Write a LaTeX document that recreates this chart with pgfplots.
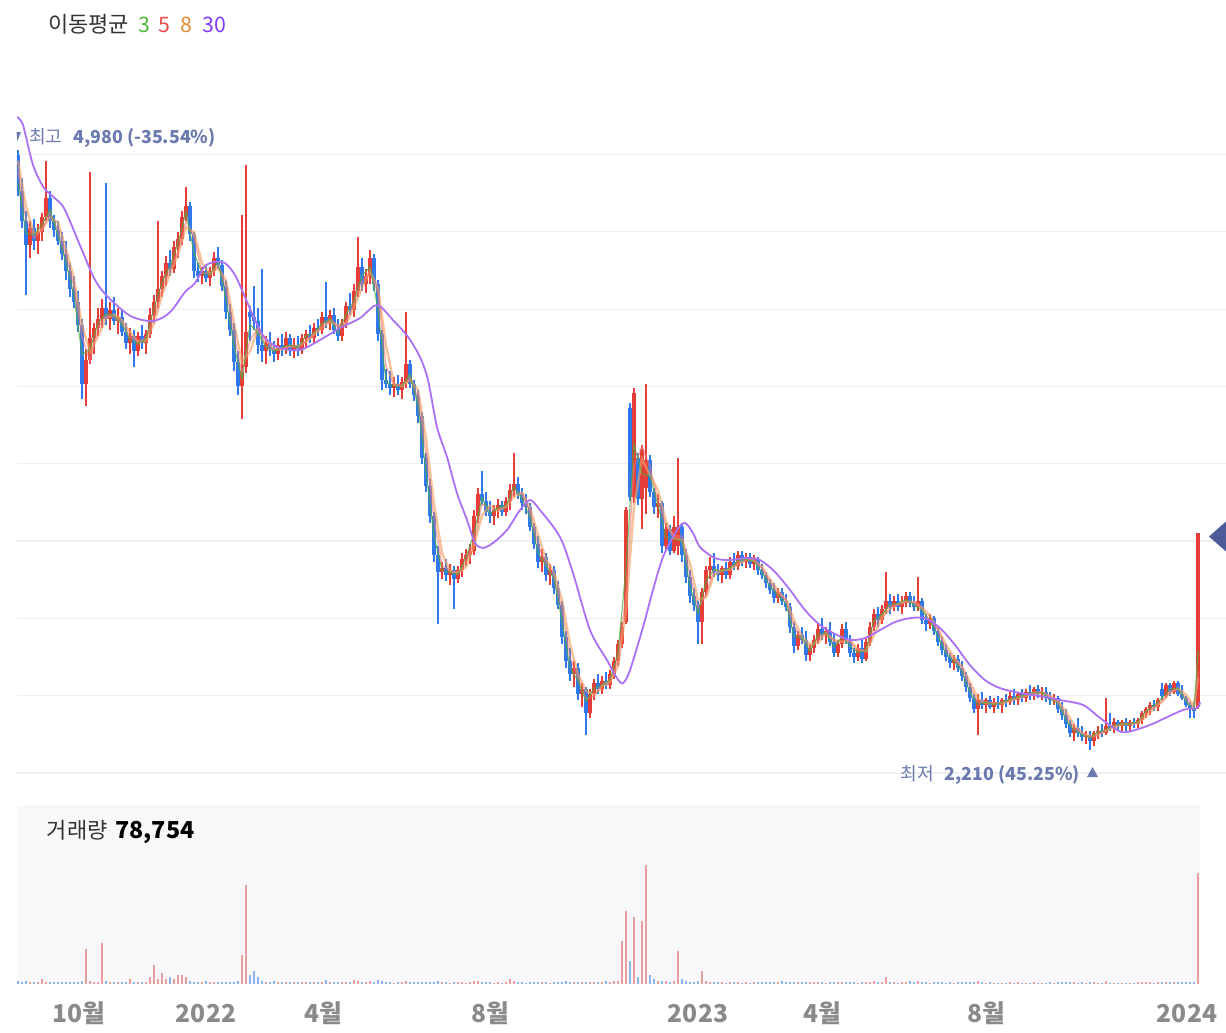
\documentclass[border=0pt]{standalone}
\usepackage{pgfplots}
\pgfplotsset{compat=1.18}
\usepackage{pgfplotstable}
\usepackage{fontspec}
\setmainfont{Noto Sans CJK KR}
\definecolor{upc}{RGB}{229,62,56}
\definecolor{dnc}{RGB}{49,120,235}
\definecolor{volup}{RGB}{232,158,158}
\definecolor{voldn}{RGB}{140,180,240}
\definecolor{ma3}{RGB}{80,175,60}
\definecolor{ma5}{RGB}{240,120,120}
\definecolor{ma8}{RGB}{242,160,100}
\definecolor{ma30}{RGB}{170,112,246}
\definecolor{lbl}{RGB}{106,122,174}
\definecolor{gridc}{RGB}{238,239,243}
\definecolor{panel}{RGB}{248,248,251}
\definecolor{axlbl}{RGB}{138,138,138}
\definecolor{markc}{RGB}{76,92,153}
\definecolor{txt}{RGB}{51,51,51}
\definecolor{leg3}{RGB}{80,185,60}
\definecolor{leg5}{RGB}{238,72,72}
\definecolor{leg8}{RGB}{232,135,50}
\definecolor{leg30}{RGB}{130,60,245}

\pgfplotstableread{
x o h l c v
18 4955 4980 4770 4790 1500
22 4790 4850 4620 4650 1200
26 4650 4700 4310 4540 1800
30 4540 4650 4480 4620 1000
34 4620 4660 4520 4560 900
38 4560 4640 4500 4600 1100
42 4600 4690 4560 4670 3100
46 4670 4930 4650 4760 1400
50 4760 4790 4620 4650 1000
54 4650 4680 4580 4610 800
58 4610 4650 4540 4560 1300
62 4560 4600 4470 4500 900
66 4500 4560 4380 4420 1100
70 4420 4460 4300 4340 1200
74 4340 4400 4250 4280 800
78 4280 4330 4140 4170 1000
82 4170 4200 3830 3900 1500
86 3900 4060 3800 4010 24600
90 4010 4880 3990 4110 1800
94 4110 4180 4040 4160 1200
98 4160 4250 4120 4200 900
102 4200 4290 4160 4250 28800
106 4250 4830 4170 4200 1500
110 4200 4280 4150 4240 1000
114 4240 4300 4170 4190 800
118 4190 4250 4130 4210 1100
122 4210 4240 4120 4140 900
126 4140 4180 4060 4090 1200
130 4090 4160 4040 4120 3100
134 4120 4150 3980 4050 1000
138 4050 4140 4030 4120 1300
142 4120 4170 4060 4090 800
146 4090 4150 4040 4130 900
150 4130 4250 4110 4220 4500
154 4220 4310 4180 4280 13100
158 4280 4650 4250 4340 3000
162 4340 4420 4300 4400 7400
166 4400 4490 4350 4460 3100
170 4460 4520 4400 4430 4500
174 4430 4560 4410 4530 3100
178 4530 4600 4480 4570 5900
182 4570 4700 4540 4670 5900
186 4670 4810 4650 4720 4500
190 4720 4740 4560 4590 1700
194 4590 4600 4390 4420 1200
198 4420 4460 4370 4400 800
202 4400 4440 4360 4420 900
206 4420 4450 4370 4390 1700
210 4390 4440 4350 4420 1000
214 4420 4510 4400 4480 800
218 4480 4530 4430 4450 1000
222 4450 4470 4330 4350 1100
226 4350 4380 4200 4230 900
230 4230 4270 4120 4150 1200
234 4150 4180 3960 4000 1300
238 4000 4050 3850 3890 1500
242 3890 4680 3740 3960 20300
246 3980 4910 3950 4140 70400
250 4230 4260 4100 4210 6000
254 4210 4350 4150 4190 8800
258 4190 4250 4040 4080 4500
262 4080 4430 4000 4050 1500
266 4050 4120 3990 4090 1000
270 4090 4140 4030 4060 900
274 4060 4100 4000 4040 1700
278 4040 4110 4010 4080 1000
282 4080 4130 4030 4060 800
286 4060 4140 4040 4110 900
290 4110 4130 4030 4050 1000
294 4050 4110 4020 4080 800
298 4080 4120 4030 4060 900
302 4060 4130 4040 4110 800
306 4110 4150 4070 4130 1000
310 4130 4170 4090 4110 800
314 4110 4180 4090 4160 900
318 4160 4200 4120 4150 800
322 4150 4230 4130 4210 1000
326 4210 4370 4160 4180 2400
330 4180 4240 4150 4220 1000
334 4220 4250 4130 4150 900
338 4150 4200 4100 4120 800
342 4120 4200 4100 4180 1000
346 4180 4280 4160 4260 1200
350 4260 4320 4220 4240 900
354 4240 4360 4210 4330 2400
358 4330 4580 4300 4440 1800
362 4440 4480 4330 4360 1000
366 4360 4430 4320 4400 900
370 4400 4520 4360 4480 1500
374 4480 4500 4330 4360 1200
378 4360 4380 4100 4130 2400
382 4130 4150 3870 3920 1500
386 3920 3970 3880 3900 900
390 3900 3960 3850 3880 800
394 3880 3930 3840 3900 700
398 3900 3940 3850 3870 800
402 3870 3930 3830 3910 900
406 3910 4230 3880 3990 2000
410 3990 4010 3880 3900 1000
414 3900 3920 3820 3850 800
418 3850 3870 3720 3750 900
422 3750 3770 3530 3560 1200
426 3560 3580 3400 3430 1000
430 3430 3460 3260 3290 1100
434 3290 3310 3080 3110 1300
438 3110 3150 2790 3030 1500
442 3030 3080 3000 3050 900
446 3050 3090 2990 3020 800
450 3020 3070 2970 3040 700
454 3040 3060 2860 3000 1000
458 3000 3060 2980 3040 900
462 3040 3120 3010 3090 800
466 3090 3140 3060 3110 700
470 3110 3160 3070 3130 900
474 3130 3320 3110 3290 2100
478 3290 3420 3260 3390 1500
482 3390 3500 3340 3360 1200
486 3360 3400 3290 3310 900
490 3310 3360 3260 3290 800
494 3290 3340 3250 3320 700
498 3320 3370 3280 3340 800
502 3340 3360 3290 3310 700
506 3310 3380 3290 3360 900
510 3360 3440 3320 3410 3100
514 3410 3580 3380 3440 1500
518 3440 3470 3370 3390 900
522 3390 3420 3320 3350 800
526 3350 3390 3300 3330 700
530 3330 3350 3220 3240 900
534 3240 3260 3140 3160 1000
538 3160 3200 3050 3080 1100
542 3080 3140 3030 3100 800
546 3100 3120 2990 3020 900
550 3020 3070 2970 3040 700
554 3040 3060 2930 2960 1000
558 2960 2990 2860 2880 1200
562 2880 2900 2700 2730 1300
566 2730 2760 2590 2620 1500
570 2620 2680 2530 2560 1200
574 2560 2620 2500 2590 1000
578 2590 2610 2440 2470 1100
582 2470 2520 2410 2490 900
586 2490 2500 2280 2380 1300
590 2380 2490 2360 2470 1000
594 2470 2540 2440 2520 900
598 2520 2560 2470 2490 800
602 2490 2550 2470 2530 1000
606 2530 2570 2490 2510 1700
610 2510 2580 2490 2560 1200
614 2560 2640 2540 2620 2100
618 2620 2720 2600 2700 1500
622 2700 2800 2680 2780 30500
626 2800 3330 2790 3320 52000
630 3790 3810 3360 3380 16000
634 3380 3880 3350 3860 47700
638 3560 3580 3340 3370 4500
642 3370 3620 3230 3600 44800
646 3420 3900 3300 3550 84800
650 3550 3570 3380 3400 6000
654 3400 3420 3300 3330 3100
658 3330 3390 3280 3350 1700
662 3350 3360 3120 3150 1700
666 3150 3260 3130 3230 1500
670 3230 3250 3110 3130 1200
674 3130 3290 3120 3240 1500
678 3150 3560 3110 3240 23300
682 3240 3260 3080 3110 3100
686 3110 3140 2980 3010 1500
690 3010 3040 2890 2920 1200
694 2920 2960 2850 2880 1000
698 2880 2900 2700 2800 1500
702 2800 2960 2700 2940 8800
706 2940 3060 2920 3040 1500
710 3040 3100 3000 3060 1200
714 3060 3120 3010 3030 900
718 3030 3070 2990 3020 800
722 3020 3060 2980 3050 900
726 3050 3080 3000 3020 700
730 3020 3100 3000 3080 1000
734 3080 3120 3040 3060 800
738 3060 3130 3040 3110 900
742 3110 3130 3060 3080 700
746 3080 3120 3050 3100 800
750 3100 3120 3050 3070 700
754 3070 3110 3040 3090 800
758 3090 3100 3020 3040 1200
762 3040 3070 3000 3020 800
766 3020 3030 2960 2980 900
770 2980 3000 2930 2950 1000
774 2950 2980 2890 2910 1100
778 2910 2960 2890 2940 800
782 2940 2960 2880 2900 1600
786 2900 2930 2850 2870 900
790 2870 2890 2750 2780 1200
794 2780 2800 2660 2690 1300
798 2690 2760 2670 2740 900
802 2740 2780 2700 2720 800
806 2720 2760 2620 2650 1000
810 2650 2700 2620 2680 800
814 2680 2740 2660 2720 900
818 2720 2790 2700 2770 1000
822 2770 2820 2720 2740 800
826 2740 2780 2700 2760 700
830 2760 2800 2690 2710 800
834 2710 2750 2640 2660 900
838 2660 2720 2640 2700 800
842 2700 2790 2680 2770 1200
846 2770 2800 2700 2720 900
850 2720 2740 2640 2660 800
854 2660 2680 2610 2640 900
858 2640 2700 2620 2680 700
862 2680 2720 2610 2630 800
866 2630 2730 2620 2710 1000
870 2710 2800 2690 2780 1200
874 2780 2860 2760 2840 1500
878 2840 2870 2780 2810 900
882 2810 2880 2790 2860 1000
886 2860 3030 2840 2900 4500
890 2900 2930 2840 2870 1000
894 2870 2920 2850 2900 800
898 2900 2930 2850 2870 700
902 2870 2920 2840 2890 800
906 2890 2940 2870 2920 900
910 2920 2940 2870 2890 1500
914 2890 2920 2850 2870 800
918 2870 3010 2850 2900 2100
922 2900 2910 2790 2810 1000
926 2810 2840 2760 2790 800
930 2790 2840 2770 2820 700
934 2820 2830 2740 2760 800
938 2760 2780 2690 2710 900
942 2710 2730 2650 2670 800
946 2670 2700 2620 2640 700
950 2640 2660 2590 2610 800
954 2610 2650 2580 2630 700
958 2630 2650 2570 2590 800
962 2590 2620 2530 2550 900
966 2550 2570 2480 2500 1000
970 2500 2520 2430 2450 1100
974 2450 2470 2380 2400 1200
978 2400 2470 2280 2440 1500
982 2440 2480 2400 2420 800
986 2420 2450 2380 2440 700
990 2440 2460 2400 2410 800
994 2410 2450 2380 2430 700
998 2430 2460 2400 2420 600
1002 2420 2450 2380 2440 700
1006 2440 2470 2410 2430 600
1010 2430 2480 2420 2460 800
1014 2460 2490 2420 2440 700
1018 2440 2480 2420 2470 800
1022 2470 2490 2430 2450 600
1026 2450 2490 2430 2480 700
1030 2480 2510 2440 2460 600
1034 2460 2500 2440 2490 800
1038 2490 2510 2450 2470 700
1042 2470 2500 2440 2480 600
1046 2480 2500 2430 2450 700
1050 2450 2480 2420 2440 800
1054 2440 2470 2420 2450 700
1058 2450 2460 2380 2400 900
1062 2400 2430 2350 2370 800
1066 2370 2400 2310 2330 1000
1070 2330 2350 2270 2290 900
1074 2290 2330 2250 2310 800
1078 2310 2360 2270 2290 700
1082 2290 2320 2250 2270 800
1086 2270 2300 2240 2280 700
1090 2280 2300 2210 2250 1000
1094 2250 2300 2230 2290 800
1098 2290 2320 2260 2300 700
1102 2300 2330 2270 2290 600
1106 2290 2450 2280 2320 1500
1110 2320 2380 2300 2310 700
1114 2310 2360 2290 2340 600
1118 2340 2350 2300 2320 700
1122 2320 2350 2300 2340 600
1126 2340 2360 2300 2320 700
1130 2320 2350 2300 2340 600
1134 2340 2360 2310 2330 700
1138 2330 2360 2310 2350 800
1142 2350 2390 2330 2380 900
1146 2380 2410 2360 2400 800
1150 2400 2430 2370 2420 900
1154 2420 2440 2390 2410 700
1158 2410 2450 2390 2440 800
1162 2490 2520 2440 2460 1200
1166 2460 2520 2450 2510 1000
1170 2510 2520 2460 2480 900
1174 2480 2530 2470 2520 1000
1178 2520 2530 2460 2470 800
1182 2470 2510 2440 2450 900
1186 2450 2460 2410 2420 800
1190 2420 2430 2360 2400 1000
1194 2400 2430 2360 2390 900
1198 2410 3210 2400 3210 78754
}\candles

\newcommand{\upx}{\thisrow{c}<\thisrow{o} ? -100 : \thisrow{x}}
\newcommand{\dnx}{\thisrow{c}<\thisrow{o} ? \thisrow{x} : -100}
\newcommand{\wmid}{(\thisrow{h}+\thisrow{l})/2}
\newcommand{\werr}{(\thisrow{h}-\thisrow{l})/2}
\newcommand{\bmid}{(\thisrow{o}+\thisrow{c})/2}
\newcommand{\berr}{max(abs(\thisrow{c}-\thisrow{o})/2,4)}

\pgfplotsset{
  wick/.style={draw=none, mark=none, forget plot, restrict x to domain=0:2000,
    error bars/.cd, y dir=both, y explicit, error mark=none,
    error bar style={draw=#1, line width=0.85pt}},
  body/.style={draw=none, mark=none, forget plot, restrict x to domain=0:2000,
    error bars/.cd, y dir=both, y explicit, error mark=none,
    error bar style={draw=#1, line width=2.6pt}},
}

\begin{document}
\begin{tikzpicture}
\useasboundingbox (0pt,0pt) rectangle (919.5pt,-774pt);

% ---------- price panel ----------
\begin{axis}[
  at={(12.75pt,-579.75pt)}, anchor=south west,
  scale only axis, width=906.75pt, height=497.25pt,
  xmin=17, xmax=1226, ymin=2104, ymax=5164.7,
  axis line style={draw=none},
  xtick=\empty,
  ytick={2104,2460.9,2817.8,3174.7,3531.6,3888.5,4245.4,4602.3,4959.2},
  yticklabels={}, scaled y ticks=false,
  major tick length=0pt,
  ymajorgrids, grid style={gridc, line width=0.9pt},
]
\addplot[wick=upc] table[x expr={\upx}, y expr={\wmid}, y error expr={\werr}]{\candles};
\addplot[wick=dnc] table[x expr={\dnx}, y expr={\wmid}, y error expr={\werr}]{\candles};
\addplot[body=upc] table[x expr={\upx}, y expr={\bmid}, y error expr={\berr}]{\candles};
\addplot[body=dnc] table[x expr={\dnx}, y expr={\bmid}, y error expr={\berr}]{\candles};

% MA 8
\addplot[ma8, line width=1.8pt, opacity=0.65, mark=none] coordinates {
(18,4930) (26,4720) (34,4593) (42,4613) (50,4670) (58,4645) (66,4523) (74,4385) (82,4173) (90,4048) (98,4120) (106,4203) (114,4220) (122,4195) (130,4140) (138,4095) (146,4098) (154,4180) (162,4310) (170,4408) (178,4498) (186,4623) (194,4600) (202,4458) (210,4408) (218,4435) (226,4378) (234,4183) (242,4000) (250,4050) (258,4155) (266,4103) (274,4060) (282,4060) (290,4075) (298,4075) (306,4095) (314,4128) (322,4158) (330,4190) (338,4168) (346,4178) (354,4253) (362,4343) (370,4420) (378,4343) (386,4078) (394,3900) (402,3890) (410,3918) (418,3873) (426,3648) (434,3348) (442,3120) (450,3035) (458,3030) (466,3055) (474,3155) (482,3293) (490,3338) (498,3315) (506,3333) (514,3380) (522,3398) (530,3328) (538,3203) (546,3090) (554,3030) (562,2903) (570,2698) (578,2560) (586,2483) (594,2465) (602,2503) (610,2523) (618,2598) (626,2855) (634,3335) (642,3553) (650,3480) (658,3408) (666,3265) (674,3188) (682,3180) (690,3070) (698,2903) (706,2915) (714,3018) (722,3040) (730,3043) (738,3068) (746,3088) (754,3085) (762,3055) (770,2998) (778,2945) (786,2905) (794,2810) (802,2733) (810,2698) (818,2705) (826,2748) (834,2718) (842,2710) (850,2713) (858,2675) (866,2665) (874,2740) (882,2823) (890,2860) (898,2885) (906,2895) (914,2893) (922,2868) (930,2830) (938,2770) (946,2695) (954,2638) (962,2595) (970,2523) (978,2448) (986,2425) (994,2425) (1002,2425) (1010,2438) (1018,2450) (1026,2460) (1034,2470) (1042,2475) (1050,2460) (1058,2435) (1066,2388) (1074,2325) (1082,2290) (1090,2273) (1098,2280) (1106,2300) (1114,2315) (1122,2328) (1130,2330) (1138,2335) (1146,2365) (1154,2403) (1162,2433) (1170,2473) (1178,2495) (1186,2465) (1194,2415) (1198,2543)
};
% MA 5
\addplot[ma5, line width=1.1pt, opacity=0.6, mark=none] coordinates {
(18,4880) (26,4660) (34,4573) (42,4610) (50,4693) (58,4607) (66,4493) (74,4347) (82,4117) (90,4007) (98,4157) (106,4217) (114,4210) (122,4180) (130,4117) (138,4097) (146,4113) (154,4210) (162,4340) (170,4430) (178,4510) (186,4653) (194,4577) (202,4413) (210,4410) (218,4450) (226,4343) (234,4127) (242,3950) (250,4103) (258,4160) (266,4073) (274,4063) (282,4060) (290,4073) (298,4063) (306,4100) (314,4133) (322,4173) (330,4203) (338,4163) (346,4187) (354,4277) (362,4377) (370,4413) (378,4323) (386,3983) (394,3893) (402,3893) (410,3933) (418,3833) (426,3580) (434,3277) (442,3063) (450,3037) (458,3027) (466,3080) (474,3177) (482,3347) (490,3320) (498,3317) (506,3337) (514,3403) (522,3393) (530,3307) (538,3160) (546,3067) (554,3007) (562,2857) (570,2637) (578,2540) (586,2447) (594,2457) (602,2513) (610,2533) (618,2627) (626,2933) (634,3520) (642,3610) (650,3517) (658,3360) (666,3243) (674,3200) (682,3197) (690,3013) (698,2867) (706,2927) (714,3043) (722,3033) (730,3050) (738,3083) (746,3097) (754,3087) (762,3050) (770,2983) (778,2933) (786,2903) (794,2780) (802,2717) (810,2683) (818,2723) (826,2757) (834,2710) (842,2710) (850,2717) (858,2660) (866,2673) (874,2777) (882,2837) (890,2877) (898,2880) (906,2893) (914,2893) (922,2860) (930,2807) (938,2763) (946,2673) (954,2627) (962,2590) (970,2500) (978,2430) (986,2433) (994,2427) (1002,2430) (1010,2443) (1018,2457) (1026,2467) (1034,2477) (1042,2480) (1050,2457) (1058,2430) (1066,2367) (1074,2310) (1082,2290) (1090,2267) (1098,2280) (1106,2303) (1114,2323) (1122,2333) (1130,2333) (1138,2340) (1146,2377) (1154,2410) (1162,2437) (1170,2483) (1178,2490) (1186,2447) (1194,2403) (1198,2574)
};
% MA 3
\addplot[ma3, line width=0.85pt, opacity=0.75, mark=none] coordinates {
(18,4830) (26,4595) (34,4590) (42,4635) (50,4705) (58,4585) (66,4460) (74,4310) (82,4035) (90,4060) (98,4180) (106,4225) (114,4215) (122,4175) (130,4105) (138,4085) (146,4110) (154,4250) (162,4370) (170,4445) (178,4550) (186,4695) (194,4505) (202,4410) (210,4405) (218,4465) (226,4290) (234,4075) (242,3925) (250,4175) (258,4135) (266,4070) (274,4050) (282,4070) (290,4080) (298,4070) (306,4120) (314,4135) (322,4180) (330,4200) (338,4135) (346,4220) (354,4285) (362,4400) (370,4440) (378,4245) (386,3910) (394,3890) (402,3890) (410,3945) (418,3800) (426,3495) (434,3200) (442,3040) (450,3030) (458,3020) (466,3100) (474,3210) (482,3375) (490,3300) (498,3330) (506,3335) (514,3425) (522,3370) (530,3285) (538,3120) (546,3060) (554,3000) (562,2805) (570,2590) (578,2530) (586,2435) (594,2495) (602,2510) (610,2535) (618,2660) (626,3050) (634,3620) (642,3485) (650,3475) (658,3340) (666,3190) (674,3185) (682,3175) (690,2965) (698,2840) (706,2990) (714,3045) (722,3035) (730,3050) (738,3085) (746,3090) (754,3080) (762,3030) (770,2965) (778,2925) (786,2885) (794,2735) (802,2730) (810,2665) (818,2745) (826,2750) (834,2685) (842,2735) (850,2690) (858,2660) (866,2670) (874,2810) (882,2835) (890,2885) (898,2885) (906,2905) (914,2880) (922,2855) (930,2805) (938,2735) (946,2655) (954,2620) (962,2570) (970,2475) (978,2420) (986,2430) (994,2420) (1002,2430) (1010,2445) (1018,2455) (1026,2465) (1034,2475) (1042,2475) (1050,2445) (1058,2425) (1066,2350) (1074,2300) (1082,2280) (1090,2265) (1098,2295) (1106,2305) (1114,2325) (1122,2330) (1130,2330) (1138,2340) (1146,2390) (1154,2415) (1162,2450) (1170,2495) (1178,2495) (1186,2435) (1194,2395) (1198,2667)
};
% MA 30
\addplot[ma30, line width=1.35pt, mark=none, smooth] coordinates {
(17,5132) (23,5095) (33,4911) (44,4805) (57,4749) (65,4703) (82,4518) (95,4380) (108,4301) (130,4215) (150,4190) (162,4205) (172,4241) (185,4324) (195,4366) (205,4444) (215,4463) (225,4458) (235,4403) (245,4301) (255,4195) (265,4112) (280,4066) (300,4057) (320,4103) (340,4158) (360,4204) (377,4264) (393,4195) (408,4117) (420,4024) (428,3918) (437,3701) (447,3563) (457,3396) (467,3272) (475,3166) (483,3143) (493,3166) (507,3226) (520,3318) (530,3364) (540,3318) (560,3193) (573,3027) (590,2764) (607,2625) (617,2542) (623,2519) (630,2579) (643,2778) (653,2949) (663,3101) (677,3226) (685,3258) (693,3212) (700,3147) (715,3096) (730,3087) (745,3096) (760,3087) (775,3032) (790,2949) (805,2856) (820,2787) (835,2746) (850,2718) (865,2727) (880,2764) (895,2801) (910,2819) (925,2819) (940,2773) (955,2695) (970,2602) (985,2533) (1000,2496) (1020,2473) (1040,2459) (1060,2441) (1083,2418) (1100,2358) (1117,2303) (1127,2293) (1150,2326) (1183,2395) (1197,2404) (1200,2431)
};
\end{axis}

% ---------- volume panel ----------
\begin{axis}[
  at={(12.75pt,-737.625pt)}, anchor=south west,
  scale only axis, width=887.25pt, height=133.875pt,
  xmin=17, xmax=1200, ymin=0, ymax=127450,
  axis background/.style={fill=panel},
  axis line style={draw=none},
  ytick=\empty, scaled y ticks=false,
  xtick={79,206,323,490,698,822,986,1187},
  xticklabels={10월,2022,4월,8월,2023,4월,8월,2024},
  major tick length=0pt,
  xticklabel style={anchor=base, yshift=-29.6pt, text=axlbl,
    font=\fontsize{18.5}{20}\selectfont\bfseries},
]
\addplot[ycomb, draw=volup, line width=2.2pt, mark=none, restrict x to domain=0:2000] table[x expr={\upx}, y=v]{\candles};
\addplot[ycomb, draw=voldn, line width=2.2pt, mark=none, restrict x to domain=0:2000] table[x expr={\dnx}, y=v]{\candles};
\end{axis}

% ---------- texts ----------
\node[anchor=base west, inner sep=0pt, text=txt, font=\fontsize{16.5}{18}\selectfont] at (36pt,-24.4pt) {이동평균};
\node[anchor=base west, inner sep=0pt, text=leg3, font=\fontsize{16}{18}\selectfont] at (103.5pt,-24.4pt) {3};
\node[anchor=base west, inner sep=0pt, text=leg5, font=\fontsize{16}{18}\selectfont] at (118.5pt,-24.4pt) {5};
\node[anchor=base west, inner sep=0pt, text=leg8, font=\fontsize{16}{18}\selectfont] at (135pt,-24.4pt) {8};
\node[anchor=base west, inner sep=0pt, text=leg30, font=\fontsize{16}{18}\selectfont] at (151.5pt,-24.4pt) {30};

\fill[lbl] (12.4pt,-99pt) -- (15.75pt,-99pt) -- (13pt,-105.75pt) -- cycle;
\node[anchor=base west, inner sep=0pt, text=lbl, font=\fontsize{13.6}{16}\selectfont] at (21.75pt,-107.5pt) {최고};
\node[anchor=base west, inner sep=0pt, text=lbl, font=\fontsize{13.4}{16}\selectfont\bfseries] at (54.75pt,-107.5pt) {4,980 (-35.54\%)};

\node[anchor=base west, inner sep=0pt, text=lbl, font=\fontsize{13.6}{16}\selectfont] at (675.5pt,-585pt) {최저};
\node[anchor=base west, inner sep=0pt, text=lbl, font=\fontsize{13.4}{16}\selectfont\bfseries] at (708pt,-585pt) {2,210 (45.25\%)};
\fill[lbl] (815.25pt,-582.75pt) -- (823.5pt,-582.75pt) -- (819.4pt,-575.25pt) -- cycle;

\node[anchor=base west, inner sep=0pt, text=txt, font=\fontsize{16.5}{18}\selectfont] at (35pt,-628.7pt) {거래량};
\node[anchor=base west, inner sep=0pt, text=black, font=\fontsize{17.5}{19}\selectfont\bfseries] at (86.25pt,-628.7pt) {78,754};

\fill[markc] (906.75pt,-402.4pt) -- (919.5pt,-391.1pt) -- (919.5pt,-413.6pt) -- cycle;
\end{tikzpicture}
\end{document}
